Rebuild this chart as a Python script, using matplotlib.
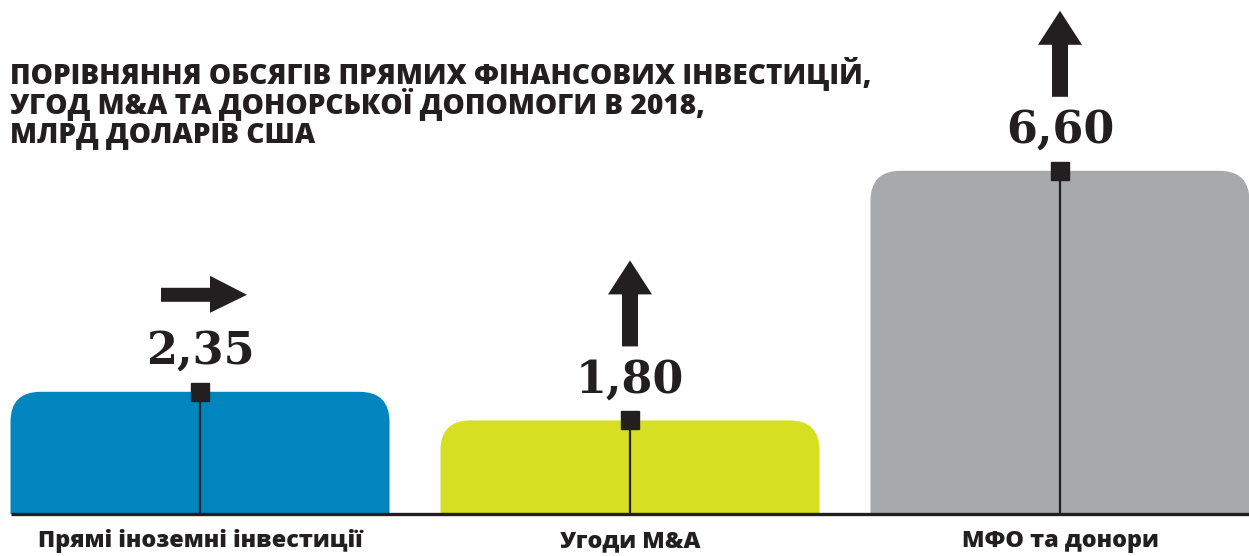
import numpy as np
import matplotlib.pyplot as plt
from matplotlib import patches, transforms

categories = ['Прямі іноземні інвестиції', 'Угоди M&A', 'МФО та донори']
values = [2.35, 1.80, 6.60]
value_labels = ['2,35', '1,80', '6,60']
arrow_dirs = ['right', 'up', 'up']
colors = ['#0085bf', '#d7df23', '#a7a9ac']
title = ('ПОРІВНЯННЯ ОБСЯГІВ ПРЯМИХ ФІНАНСОВИХ ІНВЕСТИЦІЙ,\n'
         'УГОД M&A ТА ДОНОРСЬКОЇ ДОПОМОГИ В 2018,\n'
         'МЛРД ДОЛАРІВ США')

dark = '#231f20'
W, H = 1249, 556
fig = plt.figure(figsize=(W / 100, H / 100), dpi=100)
ax = fig.add_axes([0, 0, 1, 1])
ax.set_axis_off()

px_x = 430.0   # pixels per category step
px_y = 52.0    # pixels per unit value
ax.set_xlim(-200 / px_x, (W - 200) / px_x)
ax.set_ylim(-42 / px_y, (H - 42) / px_y)

bar_w = 379 / px_x
radius = 30 / px_x
x = np.arange(len(categories))

for i, v in enumerate(values):
    box = patches.FancyBboxPatch((x[i] - bar_w / 2, -2), bar_w, v + 2,
                                 boxstyle=f'round,pad=0,rounding_size={radius}',
                                 mutation_aspect=px_x / px_y,
                                 fc=colors[i], ec='none', zorder=1)
    ax.add_patch(box)
    clip = patches.Rectangle((x[i] - bar_w, 0), 2 * bar_w, v + 5,
                             transform=ax.transData)
    box.set_clip_path(clip)

ax.vlines(x, 0, values, color=dark, lw=1.6, zorder=2)
ax.plot(x, values, 's', ms=13, color=dark, zorder=3)
ax.hlines(0, x[0] - bar_w / 2, (W - 200) / px_x, color=dark, lw=2.4, zorder=4)

for i, v in enumerate(values):
    ax.annotate(value_labels[i], (x[i], v), xytext=(0, 29),
                textcoords='offset points', ha='center', va='center',
                fontsize=32, fontweight='bold', family='DejaVu Serif',
                color=dark)
    anchor = transforms.ScaledTranslation(x[i], v, ax.transData)
    tr = transforms.Affine2D() + anchor
    if arrow_dirs[i] == 'up':
        pts = [(-8, 74), (8, 74), (8, 126), (22, 126), (0, 160),
               (-22, 126), (-8, 126)]
    else:
        pts = [(-39, 90), (10, 90), (10, 79), (47, 97), (10, 116),
               (10, 104), (-39, 104)]
    ax.add_patch(patches.Polygon(pts, closed=True, fc=dark, ec='none',
                                 transform=tr, zorder=3))
    ax.text(x[i], -27 / px_y, categories[i], ha='center', va='center',
            fontsize=16.8, fontweight='heavy', family='Open Sans', color=dark)

fig.text(10 / W, 1 - 56 / H, title, ha='left', va='top', fontsize=20.2,
         fontweight='heavy', family='Open Sans', color=dark, linespacing=0.93)

fig.savefig('out.png', dpi=100)
